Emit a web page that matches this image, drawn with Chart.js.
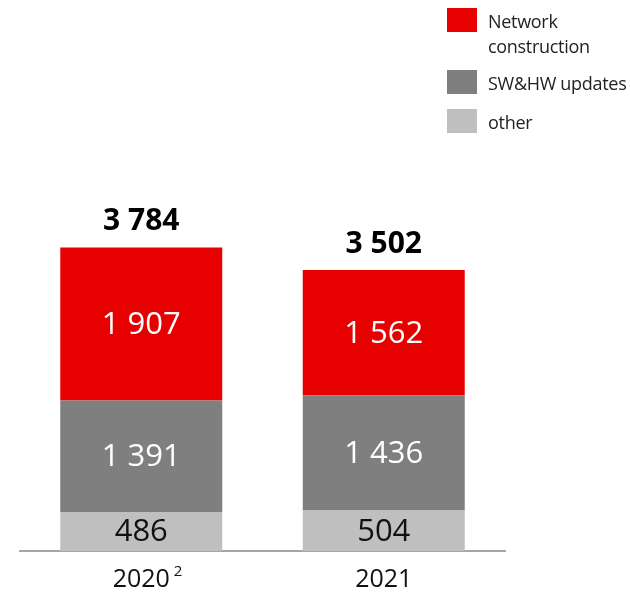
<!DOCTYPE html>
<html>
<head>
<meta charset="utf-8">
<script src="https://cdn.jsdelivr.net/npm/chart.js@4.4.1/dist/chart.umd.min.js"></script>
<style>
    body { margin: 0; background: #fff; font-family: "Open Sans", sans-serif; }
    #wrap { position: relative; width: 630px; height: 592px; }
    #legend { position: absolute; left: 447px; top: 0; font-size: 18px; color: #222; }
    .item { position: absolute; left: 0; display: flex; align-items: flex-start; white-space: nowrap; }
    .box { width: 30px; height: 24px; margin-right: 11px; flex: none; }
    .txt { line-height: 25px; margin-top: 1px; letter-spacing: -0.3px; }
</style>
</head>
<body>
<div id="wrap">
    <canvas id="capexChart" width="630" height="592"></canvas>
    <div id="legend"></div>
</div>
<script>
// Chart data
const years = ['2020', '2021'];
const yearNotes = ['2', ''];
const otherValues = [486, 504];
const swhwValues = [1391, 1436];
const networkValues = [1907, 1562];
const totals = [3784, 3502];

const seriesNames = ['other', 'SW&HW updates', 'Network construction'];
const seriesColors = ['#bfbfbf', '#7f7f7f', '#e60000'];
const labelColors = ['#111111', '#ffffff', '#ffffff'];

function fmt(n) {
    return String(n).replace(/\B(?=(\d{3})+(?!\d))/g, ' ');
}

// Legend (top one first)
function buildLegend() {
    const legend = document.getElementById('legend');
    const lines = [['Network', 'construction'], ['SW&HW updates'], ['other']];
    const colors = [seriesColors[2], seriesColors[1], seriesColors[0]];
    const tops = [8, 70, 109];
    legend.innerHTML = lines.map((l, i) => `
        <div class="item" style="top:${tops[i]}px">
            <div class="box" style="background:${colors[i]}"></div>
            <div class="txt">${l.map(t => t.replace('&', '&amp;')).join('<br>')}</div>
        </div>
    `).join('');
}

// Values inside bars, totals above, year labels below
const labelPlugin = {
    id: 'labelPlugin',
    afterDatasetsDraw(chart) {
        const ctx = chart.ctx;
        ctx.save();
        ctx.textAlign = 'center';
        ctx.textBaseline = 'middle';

        chart.data.datasets.forEach((ds, di) => {
            const meta = chart.getDatasetMeta(di);
            meta.data.forEach((bar, i) => {
                ctx.fillStyle = labelColors[di];
                ctx.font = '31px "Open Sans"';
                ctx.fillText(fmt(ds.data[i]), bar.x, (bar.y + bar.base) / 2 + 1);
            });
        });

        const topMeta = chart.getDatasetMeta(chart.data.datasets.length - 1);
        topMeta.data.forEach((bar, i) => {
            ctx.fillStyle = '#000';
            ctx.font = 'bold 30px "Open Sans"';
            ctx.fillText(fmt(totals[i]), bar.x, bar.y - 26);
        });

        const xScale = chart.scales.x;
        years.forEach((y, i) => {
            const x = xScale.getPixelForValue(i);
            ctx.fillStyle = '#111';
            ctx.font = '25px "Open Sans"';
            ctx.textAlign = 'center';
            ctx.fillText(y, x, 580);
            if (yearNotes[i]) {
                const w = ctx.measureText(y).width;
                ctx.font = '15px "Open Sans"';
                ctx.textAlign = 'left';
                ctx.fillText(yearNotes[i], x + w / 2 + 4, 572);
            }
        });
        ctx.restore();
    }
};

document.addEventListener('DOMContentLoaded', function() {
    buildLegend();

    const values = [otherValues, swhwValues, networkValues];
    new Chart(document.getElementById('capexChart'), {
        type: 'bar',
        data: {
            labels: years,
            datasets: values.map((v, i) => ({
                label: seriesNames[i],
                data: v,
                backgroundColor: seriesColors[i],
                borderWidth: 0,
                categoryPercentage: 1,
                barPercentage: 0.668
            }))
        },
        options: {
            responsive: false,
            animation: false,
            layout: { padding: { left: 20, right: 125, top: 190, bottom: 33 } },
            plugins: { legend: { display: false }, tooltip: { enabled: false } },
            scales: {
                x: {
                    stacked: true,
                    grid: { display: false },
                    ticks: { display: false },
                    border: { display: true, color: '#a6a6a6', width: 2 }
                },
                y: {
                    stacked: true,
                    display: false,
                    min: 0,
                    max: 4500
                }
            }
        },
        plugins: [labelPlugin]
    });
});
</script>
</body>
</html>
